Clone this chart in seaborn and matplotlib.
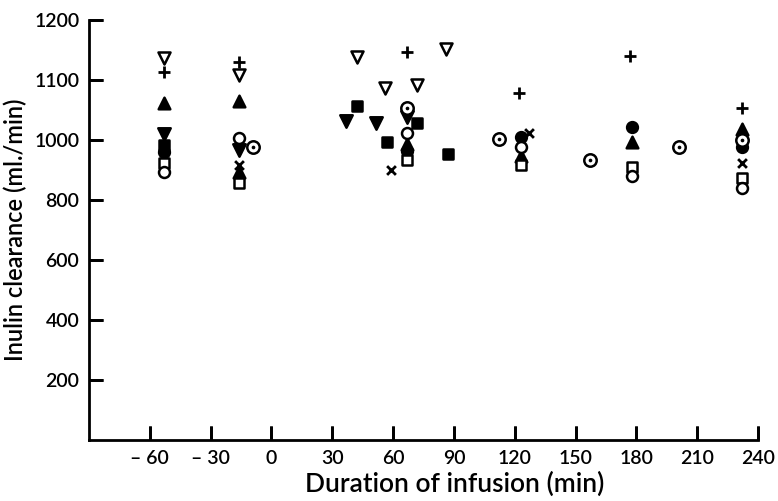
import numpy as np
import pandas as pd
import matplotlib
matplotlib.use("Agg")
import matplotlib.pyplot as plt
import seaborn as sns

# ---- data ----
tri_open_down_x = [-53, -16, 42, 56, 72, 86]
tri_open_down_y = [1136, 1108, 1139, 1086, 1092, 1151]

plus_x = [-53, -16, 67, 122, 177, 232]
plus_y = [1114, 1130, 1147, 1079, 1140, 1054]

tri_up_x = [-53, -16, -16, 67, 123, 178, 232]
tri_up_y = [1062, 1065, 893, 987, 947, 993, 1019]

tri_down_x = [-53, -16, 37, 51.5, 67]
tri_down_y = [1010, 967, 1032, 1028, 1039]

sq_fill_x = [-53, 42, 72, 57, 87]
sq_fill_y = [983, 1056, 1029, 993, 954]

circ_fill_x = [-53, 67, 123, 178, 232]
circ_fill_y = [960, 965, 1005, 1022, 978]

sq_open_x = [-53, -16, 67, 123, 178, 232]
sq_open_y = [923, 857, 932, 917, 911, 872]

circ_open_x = [-53, -16, 67, 123, 178, 232]
circ_open_y = [895, 1003, 1011, 977, 881, 839]

circ_dot_x = [-9, 67, 112, 157, 201, 232]
circ_dot_y = [977, 1054, 1002, 933, 976, 1000]

cross_x = [-16, 59, 127, 232]
cross_y = [917, 900, 1012, 922]

x_ticks = [-60, -30, 0, 30, 60, 90, 120, 150, 180, 210, 240]
x_tick_labels = ["\u2013 60", "\u2013 30", "0", "30", "60", "90", "120", "150", "180", "210", "240"]
y_ticks = [200, 400, 600, 800, 1000, 1100, 1200]
y_tick_labels = ["200", "400", "600", "800", "1000", "1100", "1200"]

sns.set_theme(style="ticks", rc={
    "axes.edgecolor": "black", "axes.linewidth": 2,
    "axes.axisbelow": False,
})
plt.rcParams['font.family'] = ['Lato', 'DejaVu Sans']

fig = plt.figure(figsize=(7.78, 5.01), dpi=100)
ax = fig.add_axes([89/778, 61/501, (758-89)/778, 420/501])


def fwd(y):
    y = np.asarray(y, dtype=float)
    return np.where(y <= 1000, y, 1000 + (y - 1000) * 2)


def inv(p):
    p = np.asarray(p, dtype=float)
    return np.where(p <= 1000, p, 1000 + (p - 1000) / 2)


ax.set_yscale('function', functions=(fwd, inv))


def draw(xs, ys, marker, face, edge="black", size=60, lw=1.8):
    df = pd.DataFrame({"x": xs, "y": ys})
    kw = dict(data=df, x="x", y="y", ax=ax, marker=marker, s=size, zorder=3)
    if marker in ("+", "x"):
        sns.scatterplot(color="black", linewidth=2.0, **kw)
    else:
        sns.scatterplot(facecolor=face, edgecolor=edge, linewidth=lw, **kw)


draw(tri_open_down_x, tri_open_down_y, "v", "white", size=75)
draw(plus_x, plus_y, "+", "black", size=70)
draw(tri_up_x, tri_up_y, "^", "black", size=70)
draw(tri_down_x, tri_down_y, "v", "black", size=80)
draw(sq_fill_x, sq_fill_y, "s", "black", size=55)
draw(circ_fill_x, circ_fill_y, "o", "black", size=60)
draw(sq_open_x, sq_open_y, "s", "white", size=42)
draw(circ_open_x, circ_open_y, "o", "white", size=62)
draw(circ_dot_x, circ_dot_y, "o", "white", size=80)
draw(circ_dot_x, circ_dot_y, "o", "black", size=7, lw=0)
draw(cross_x, cross_y, "x", "black", size=40)

ax.set_xlim(-90, 240)
ax.set_ylim(0, 1200)
ax.set_xticks(x_ticks)
ax.set_xticklabels(x_tick_labels)
ax.set_yticks(y_ticks)
ax.set_yticklabels(y_tick_labels)
ax.minorticks_off()

sns.despine(ax=ax)
for side in ("left", "bottom"):
    ax.spines[side].set_linewidth(2)
    ax.spines[side].set_color("black")

ax.tick_params(axis="x", which="major", direction="in", length=10, width=2,
               color="black", bottom=True, labelsize=14, labelcolor="black", pad=7)
ax.tick_params(axis="y", which="major", direction="in", length=10, width=2,
               color="black", left=True, labelsize=14, labelcolor="black", pad=7)

# inward tick marks, drawn along the axes at the tick positions
ax.vlines(x_ticks, 0, 14/420, transform=ax.get_xaxis_transform(),
          colors="black", linewidth=2, clip_on=False, zorder=4)
ax.hlines(y_ticks, 0, 14/669, transform=ax.get_yaxis_transform(),
          colors="black", linewidth=2, clip_on=False, zorder=4)
ax.set_xlim(-90, 240)
ax.set_ylim(0, 1200)

for lab in ax.get_xticklabels() + ax.get_yticklabels():
    lab.set_fontweight("semibold")
ax.set_xlabel("Duration of infusion (min)", fontsize=19, color="black",
              labelpad=2, fontweight="semibold")
ax.xaxis.set_label_coords(0.546, -0.075)
ax.set_ylabel("Inulin clearance (ml./min)", fontsize=17, color="black",
              labelpad=5, fontweight="semibold")
ax.grid(False)

fig.savefig("out.png", dpi=100, facecolor="white")
